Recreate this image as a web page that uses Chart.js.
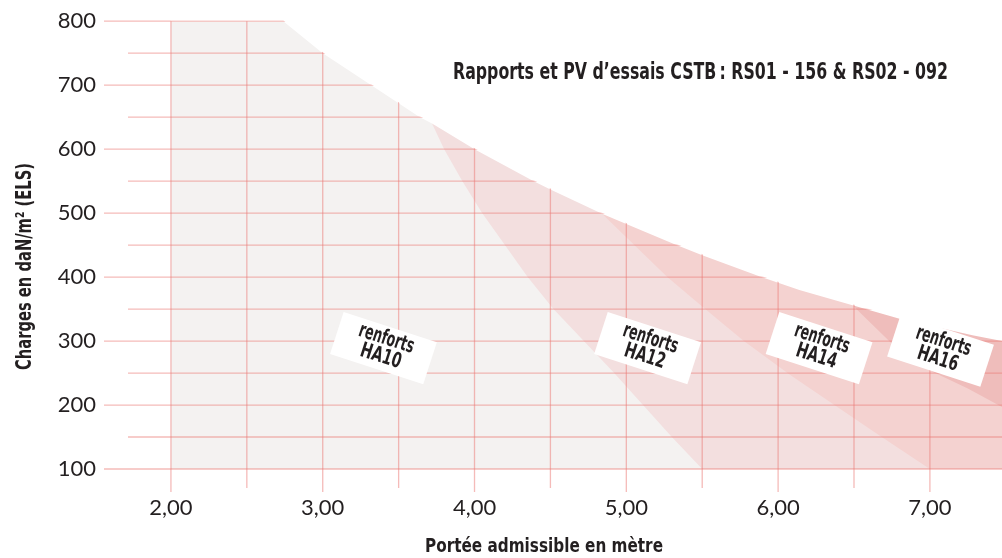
<!DOCTYPE html>
<html>
<head>
<meta charset="utf-8">
<script src="https://cdn.jsdelivr.net/npm/chart.js@4.4.1/dist/chart.umd.min.js"></script>
<style>
  html, body { margin: 0; padding: 0; background: #fff; }
  #wrap { width: 1002px; height: 558px; }
</style>
</head>
<body>
<div id="wrap"><canvas id="chart" width="1002" height="558"></canvas></div>
<script>
// portée (m) -> charge admissible (daN/m²), une courbe par renfort
var ha10X = [2.0, 2.74, 3.0, 3.32, 3.64, 3.72, 3.8, 3.92, 4.05, 4.2, 4.35, 4.52, 4.72, 4.92, 5.11, 5.3, 5.5];
var ha10Y = [800, 800, 750, 700, 650, 640, 600, 550, 500, 450, 400, 350, 300, 250, 200, 150, 100];

var ha12X = [3.72, 4.0, 4.39, 4.5, 4.84, 5.27, 5.49, 5.77, 6.08, 6.49, 6.69, 7.0];
var ha12Y = [640, 600, 550, 537, 499, 400, 356, 301, 247, 181, 149, 100];

var ha14X = [4.84, 5.0, 5.31, 5.5, 5.88, 6.14, 6.49, 6.74, 7.0, 7.25, 7.475];
var ha14Y = [499, 483, 452, 434, 401, 380, 356, 298, 254, 226, 197];

var ha16X = [6.49, 6.8, 7.28, 7.475];
var ha16Y = [356, 335, 309, 300];

var series = ["HA10", "HA12", "HA14", "HA16"];
var xTicks = [2, 3, 4, 5, 6, 7];
var yTicks = [100, 200, 300, 400, 500, 600, 700, 800];

var title = "Rapports et PV d\u2019essais CSTB\u2009: RS01 - 156 & RS02 - 092";
var xTitle = "Portée admissible en mètre";
var yTitle = "Charges en daN/m\u00b2 (ELS)";

// where the "renforts" tags sit, in data units
var tagAt = [[3.40, 289], [5.14, 289], [6.27, 289], [7.07, 285]];

var colors = ['#f4f2f1', '#f3dfdf', '#f4d2d0', '#efbdbb'];
var ink = '#231f20';
var condensed = '"Liberation Sans Narrow", "DejaVu Sans Condensed", "Liberation Sans", sans-serif';

function pts(xs, ys) {
    return xs.map(function(x, i) { return { x: x, y: ys[i] }; });
}

function fitText(ctx, text, x, y, width, font, angle) {
    ctx.save();
    ctx.font = font;
    var w = ctx.measureText(text).width;
    ctx.translate(x, y);
    ctx.rotate(angle || 0);
    ctx.scale(width / w, 1);
    ctx.textAlign = 'center';
    ctx.textBaseline = 'alphabetic';
    ctx.fillStyle = ink;
    ctx.fillText(text, 0, 0);
    ctx.restore();
}

var decor = {
    id: 'decor',
    afterDatasetsDraw: function(chart) {
        var ctx = chart.ctx;
        var xs = chart.scales.x, ys = chart.scales.y, area = chart.chartArea;

        // grid, kept inside the area covered by the curves
        ctx.save();
        ctx.beginPath();
        ctx.rect(0, area.top - 2, xs.getPixelForValue(2.0), chart.height);
        chart.data.datasets.forEach(function(ds, i) {
            var p = chart.getDatasetMeta(i).data;
            ctx.moveTo(p[0].x, p[0].y - 1);
            p.forEach(function(pt) { ctx.lineTo(pt.x, pt.y - 1); });
            ctx.lineTo(p[p.length - 1].x, chart.height);
            ctx.lineTo(p[0].x, chart.height);
            ctx.closePath();
        });
        ctx.clip();

        ctx.strokeStyle = 'rgba(236,120,116,0.5)';
        ctx.lineWidth = 1.3;
        for (var v = 100; v <= 800; v += 50) {
            var y = ys.getPixelForValue(v);
            var x0 = v % 100 === 0 ? area.left : xs.getPixelForValue(1.717);
            ctx.beginPath();
            ctx.moveTo(x0, y);
            ctx.lineTo(area.right, y);
            ctx.stroke();
        }
        for (var i = 4; i <= 14; i++) {
            var x = xs.getPixelForValue(i / 2);
            ctx.beginPath();
            ctx.moveTo(x, area.top);
            ctx.lineTo(x, area.bottom + (i % 2 === 0 ? 23 : 19));
            ctx.stroke();
        }
        ctx.restore();

        // white tags
        tagAt.forEach(function(t, k) {
            var cx = xs.getPixelForValue(t[0]);
            var cy = ys.getPixelForValue(t[1]);
            var a = 18 * Math.PI / 180;
            ctx.save();
            ctx.translate(cx, cy);
            ctx.rotate(a);
            ctx.fillStyle = '#fff';
            ctx.fillRect(-49, -22, 98, 44);
            ctx.restore();
            var c = Math.cos(a), s = Math.sin(a);
            fitText(ctx, 'renforts', cx - s * -4, cy + c * -4, 57, 'bold 21px ' + condensed, a);
            fitText(ctx, series[k], cx - s * 14.5, cy + c * 14.5, 42, 'bold 21px ' + condensed, a);
        });

        fitText(ctx, title, 700.5, 79, 495, 'bold 23px ' + condensed);
        fitText(ctx, xTitle, 544, 552, 238, 'bold 20px ' + condensed);
        fitText(ctx, yTitle, 31, 266.5, 207, 'bold 21px ' + condensed, -Math.PI / 2);
    }
};

var curves = [pts(ha10X, ha10Y), pts(ha12X, ha12Y), pts(ha14X, ha14Y), pts(ha16X, ha16Y)];

var chart = new Chart(document.getElementById('chart'), {
    type: 'line',
    data: {
        datasets: series.map(function(name, i) {
            return {
                label: name,
                data: curves[i],
                backgroundColor: colors[i],
                borderWidth: 0,
                pointRadius: 0,
                tension: 0,
                fill: { value: 100 }
            };
        })
    },
    options: {
        responsive: false,
        animation: false,
        layout: { padding: { top: 20, right: 0, bottom: 0, left: 0 } },
        plugins: {
            legend: { display: false },
            tooltip: { enabled: false }
        },
        scales: {
            x: {
                type: 'linear',
                min: 1.559,
                max: 7.475,
                grid: { display: false, drawTicks: false },
                border: { display: false },
                afterBuildTicks: function(scale) {
                    scale.ticks = xTicks.map(function(v) { return { value: v }; });
                },
                afterFit: function(scale) { scale.height = 89; },
                ticks: {
                    padding: 26,
                    maxRotation: 0,
                    color: ink,
                    font: { family: 'Lato', size: 22 },
                    callback: function(v) { return v.toFixed(2).replace('.', ','); }
                }
            },
            y: {
                type: 'linear',
                min: 100,
                max: 800,
                grid: { display: false, drawTicks: false },
                border: { display: false },
                afterBuildTicks: function(scale) {
                    scale.ticks = yTicks.map(function(v) { return { value: v }; });
                },
                afterFit: function(scale) { scale.width = 104; },
                ticks: {
                    padding: 8,
                    color: ink,
                    font: { family: 'Lato', size: 22 }
                }
            }
        }
    },
    plugins: [decor]
});
</script>
</body>
</html>
